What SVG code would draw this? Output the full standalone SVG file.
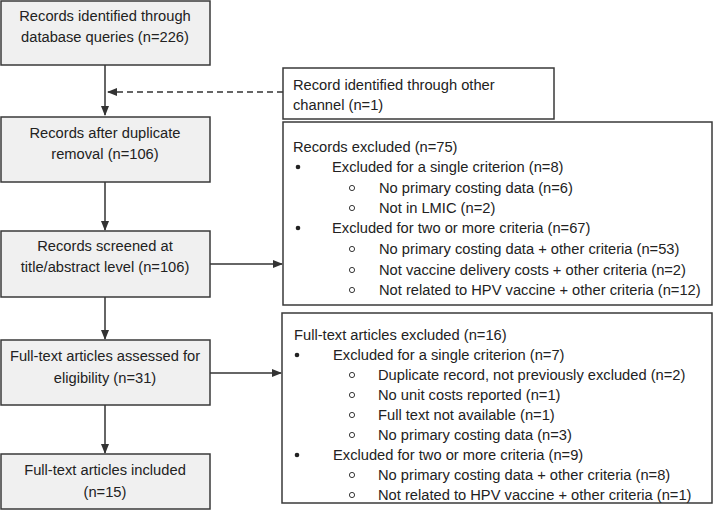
<svg xmlns="http://www.w3.org/2000/svg" width="714" height="514" viewBox="0 0 714 514">
<style>
.box{fill:#f0f0f0;stroke:#3a3a3a;stroke-width:1.5}
.wbox{fill:#ffffff;stroke:#3a3a3a;stroke-width:1.5}
text{font-family:"Liberation Sans",Arial,sans-serif;font-size:14.7px;fill:#222}
.c{text-anchor:middle}
.ln{stroke:#333;stroke-width:1.5;fill:none}
.dash{stroke:#333;stroke-width:1.5;fill:none;stroke-dasharray:6,4}
.dot{fill:#222}
.ring{fill:none;stroke:#222;stroke-width:0.9}
</style>
<defs>
<marker id="ah" markerWidth="10" markerHeight="8" refX="9" refY="4" orient="auto" markerUnits="userSpaceOnUse">
<path d="M0,0 L10,4 L0,8 Z" fill="#333"/>
</marker>
</defs>
<rect width="714" height="514" fill="#ffffff"/>
<g id="connectors">
<line class="ln" x1="105" y1="65" x2="105" y2="115" marker-end="url(#ah)"/>
<line class="dash" x1="283" y1="92" x2="108" y2="92" marker-end="url(#ah)"/>
<line class="ln" x1="105" y1="182" x2="105" y2="230" marker-end="url(#ah)"/>
<line class="ln" x1="210" y1="264" x2="282" y2="264" marker-end="url(#ah)"/>
<line class="ln" x1="105" y1="297" x2="105" y2="339" marker-end="url(#ah)"/>
<line class="ln" x1="210" y1="373" x2="281" y2="373" marker-end="url(#ah)"/>
<line class="ln" x1="105" y1="405" x2="105" y2="453" marker-end="url(#ah)"/>
</g>
<g id="n1">
<rect class="box" x="1" y="1" width="209" height="64"/>
<text class="c" x="105" y="21">Records identified through</text>
<text class="c" x="105" y="42">database queries (n=226)</text>
</g>
<g id="n2">
<rect class="wbox" x="283" y="68" width="271" height="51"/>
<text x="293" y="90">Record identified through other</text>
<text x="293" y="110">channel (n=1)</text>
</g>
<g id="n3">
<rect class="box" x="1" y="117" width="209" height="65"/>
<text class="c" x="105" y="138">Records after duplicate</text>
<text class="c" x="105" y="159">removal (n=106)</text>
</g>
<g id="n4">
<rect class="box" x="1" y="231" width="209" height="66"/>
<text class="c" x="105" y="251">Records screened at</text>
<text class="c" x="105" y="272">title/abstract level (n=106)</text>
</g>
<g id="n5">
<rect class="wbox" x="283" y="122" width="429" height="183"/>
<text x="293" y="152">Records excluded (n=75)</text>
<circle class="dot" cx="298" cy="167" r="2.3"/>
<text x="332" y="172">Excluded for a single criterion (n=8)</text>
<circle class="ring" cx="352" cy="188" r="2.6"/>
<text x="379" y="193">No primary costing data (n=6)</text>
<circle class="ring" cx="352" cy="208" r="2.6"/>
<text x="379" y="213">Not in LMIC (n=2)</text>
<circle class="dot" cx="298" cy="228" r="2.3"/>
<text x="332" y="233">Excluded for two or more criteria (n=67)</text>
<circle class="ring" cx="352" cy="249" r="2.6"/>
<text x="379" y="254">No primary costing data + other criteria (n=53)</text>
<circle class="ring" cx="352" cy="270" r="2.6"/>
<text x="379" y="275">Not vaccine delivery costs + other criteria (n=2)</text>
<circle class="ring" cx="352" cy="290" r="2.6"/>
<text x="379" y="295">Not related to HPV vaccine + other criteria (n=12)</text>
</g>
<g id="n6">
<rect class="box" x="1" y="340" width="209" height="65"/>
<text class="c" x="105" y="361">Full-text articles assessed for</text>
<text class="c" x="105" y="383">eligibility (n=31)</text>
</g>
<g id="n7">
<rect class="wbox" x="282" y="313" width="430" height="190"/>
<text x="294" y="340">Full-text articles excluded (n=16)</text>
<circle class="dot" cx="297" cy="355" r="2.3"/>
<text x="333" y="360">Excluded for a single criterion (n=7)</text>
<circle class="ring" cx="352" cy="375" r="2.6"/>
<text x="378" y="380">Duplicate record, not previously excluded (n=2)</text>
<circle class="ring" cx="352" cy="395" r="2.6"/>
<text x="378" y="400">No unit costs reported (n=1)</text>
<circle class="ring" cx="352" cy="415" r="2.6"/>
<text x="378" y="420">Full text not available (n=1)</text>
<circle class="ring" cx="352" cy="435" r="2.6"/>
<text x="378" y="440">No primary costing data (n=3)</text>
<circle class="dot" cx="297" cy="455" r="2.3"/>
<text x="333" y="460">Excluded for two or more criteria (n=9)</text>
<circle class="ring" cx="352" cy="475" r="2.6"/>
<text x="378" y="480">No primary costing data + other criteria (n=8)</text>
<circle class="ring" cx="352" cy="495" r="2.6"/>
<text x="378" y="500">Not related to HPV vaccine + other criteria (n=1)</text>
</g>
<g id="n8">
<rect class="box" x="1" y="454" width="209" height="55"/>
<text class="c" x="105" y="475">Full-text articles included</text>
<text class="c" x="105" y="497">(n=15)</text>
</g>
</svg>
